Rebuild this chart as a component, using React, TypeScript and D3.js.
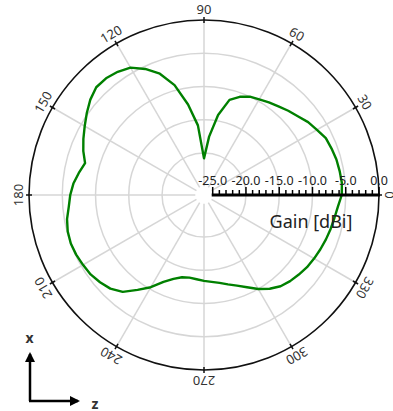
import React from "react";
import * as d3 from "d3";

// Azimuth angles (deg, counter-clockwise from +z / right)
const angles = [
  0, 5, 10, 15, 20, 25, 30, 35, 40, 45, 50, 55, 60, 65, 70, 75, 80, 85,
  90, 95, 100, 105, 110, 115, 120, 125, 130, 135, 140, 145, 150, 155, 160, 165, 170, 175,
  180, 185, 190, 195, 200, 205, 210, 215, 220, 225, 230, 235, 240, 245, 250, 255, 260, 265,
  270, 275, 280, 285, 290, 295, 300, 305, 310, 315, 320, 325, 330, 335, 340, 345, 350, 355,
];
// Gain (dBi)
const gains = [
  -5.6, -5.5, -5.6, -5.7, -5.9, -6.1, -6.7, -7.2, -7.9, -8.4, -8.9, -9.3, -9.7, -10.0, -10.6, -11.5, -14.1, -17.5,
  -20.8, -15.8, -12.5, -9.2, -6.9, -5.4, -4.2, -3.7, -3.4, -3.4, -4.0, -4.8, -5.6, -6.3, -7.0, -7.8, -7.2, -6.6,
  -6.2, -5.9, -5.4, -5.1, -5.0, -5.1, -5.3, -5.5, -5.9, -6.4, -7.3, -8.9, -10.3, -11.9, -12.9, -13.5, -13.7, -13.6,
  -13.4, -13.2, -12.9, -12.4, -11.8, -11.0, -10.0, -9.1, -8.4, -8.0, -7.7, -7.4, -7.2, -7.0, -6.8, -6.6, -6.4, -6.1,
];
const angleTicks = [0, 30, 60, 90, 120, 150, 180, 210, 240, 270, 300, 330];
const gainTicks = [-25, -20, -15, -10, -5, 0];
const axisTitle = "Gain [dBi]";

const W = 393;
const H = 411;
const cx = 204;
const cy = 195;
const R = 175;
const FONT = "'Noto Sans', 'Open Sans', sans-serif";

export default function App() {
  const r = d3.scaleLinear().domain([-25, 0]).range([8.7, R]);
  const xg = d3.scaleLinear().domain([-25, 0]).range([cx + 8.7, cx + R]);
  const toRad = (deg: number) => (deg * Math.PI) / 180;

  const data = angles.map((a, i) => ({ a, g: gains[i] }));
  const line = d3
    .lineRadial<{ a: number; g: number }>()
    .angle((d) => toRad(90 - d.a))
    .radius((d) => r(d.g))
    .curve(d3.curveLinearClosed);

  const minorTicks = xg.ticks(25);
  const labelR = 186;

  return (
    <svg
      width={W}
      height={H}
      style={{ position: "absolute", left: 0, top: 0, background: "#fff" }}
      fontFamily={FONT}
    >
      {/* grid rings */}
      {gainTicks.slice(1, -1).map((g) => (
        <circle key={g} cx={cx} cy={cy} r={r(g)} fill="none" stroke="#d6d6d6" strokeWidth={1.5} />
      ))}
      {/* radial lines */}
      {angleTicks.map((a) => (
        <line
          key={a}
          x1={cx + r(-25) * Math.cos(toRad(a))}
          y1={cy - r(-25) * Math.sin(toRad(a))}
          x2={cx + R * Math.cos(toRad(a))}
          y2={cy - R * Math.sin(toRad(a))}
          stroke="#d6d6d6"
          strokeWidth={1.5}
        />
      ))}
      {/* outer circle */}
      <circle cx={cx} cy={cy} r={R} fill="none" stroke="#111" strokeWidth={1.6} />
      {angleTicks.map((a) => (
        <line
          key={"t" + a}
          x1={cx + (R - 3) * Math.cos(toRad(a))}
          y1={cy - (R - 3) * Math.sin(toRad(a))}
          x2={cx + (R + 3) * Math.cos(toRad(a))}
          y2={cy - (R + 3) * Math.sin(toRad(a))}
          stroke="#111"
          strokeWidth={1.5}
        />
      ))}
      {angleTicks.map((a) => {
        const x = cx + labelR * Math.cos(toRad(a));
        const y = cy - labelR * Math.sin(toRad(a));
        return (
          <text
            key={"l" + a}
            x={x}
            y={y}
            textAnchor="middle"
            dominantBaseline="central"
            fontSize={13}
            fill="#333"
            transform={`rotate(${90 - a} ${x} ${y})`}
          >
            {a}
          </text>
        );
      })}
      {/* pattern */}
      <path
        d={line(data) || ""}
        transform={`translate(${cx},${cy})`}
        fill="none"
        stroke="#008000"
        strokeWidth={2.4}
        strokeLinejoin="round"
      />
      {/* gain axis */}
      <line x1={xg(-25) - 1} x2={xg(0) + 1} y1={cy} y2={cy} stroke="#000" strokeWidth={3} />
      {minorTicks.map((t) => {
        const major = gainTicks.includes(t);
        return (
          <line
            key={"m" + t}
            x1={xg(t)}
            x2={xg(t)}
            y1={cy}
            y2={major ? cy - 8 : cy - 5}
            stroke="#000"
            strokeWidth={1.5}
          />
        );
      })}
      {gainTicks.map((t) => (
        <text key={"g" + t} x={xg(t)} y={185} textAnchor="middle" fontSize={12.5} fill="#222">
          {t.toFixed(1)}
        </text>
      ))}
      <text x={311} y={227.5} textAnchor="middle" fontSize={18} fill="#222">
        {axisTitle}
      </text>
      {/* coordinate indicator */}
      <defs>
        <marker id="arr" viewBox="0 0 10 10" refX={8} refY={5} markerWidth={4} markerHeight={4} orient="auto">
          <path d="M0,0 L10,5 L0,10 z" fill="#000" />
        </marker>
      </defs>
      <line x1={30} y1={401} x2={30} y2={354} stroke="#000" strokeWidth={2.5} markerEnd="url(#arr)" />
      <line x1={29} y1={401} x2={78} y2={401} stroke="#000" strokeWidth={2.5} markerEnd="url(#arr)" />
      <text x={29.5} y={337} textAnchor="middle" dominantBaseline="central" fontSize={14} fontWeight="bold" fill="#333">
        x
      </text>
      <text x={95} y={403} textAnchor="middle" dominantBaseline="central" fontSize={14} fontWeight="bold" fill="#333">
        z
      </text>
    </svg>
  );
}
